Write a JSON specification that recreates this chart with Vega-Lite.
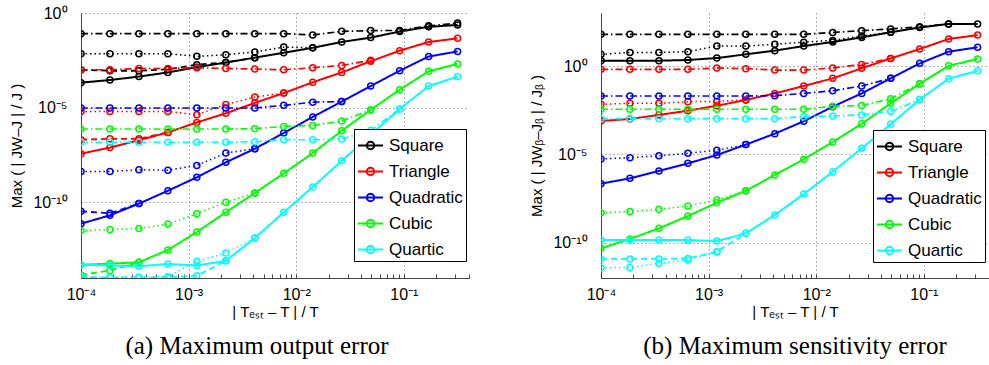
{
"$schema": "https://vega.github.io/schema/vega-lite/v6.json",
"background": "white",
"padding": {"left": 9, "top": 5, "right": 0, "bottom": 0},
"config": {
  "view": {"stroke": null},
  "font": "Liberation Sans",
  "axis": {"labelColor": "black", "titleColor": "black", "labelFont": "Liberation Sans", "titleFont": "Liberation Sans", "titleFontWeight": "normal", "labelFontSize": 16, "titleFontSize": 15},
  "legend": {"labelFont": "Liberation Sans"}
},
"datasets": {
"a": [
{"c":"Square","v":"A","x":0.0001,"y":2.09e-4},{"c":"Square","v":"A","x":0.0001857,"y":2.88e-4},{"c":"Square","v":"A","x":0.0003455,"y":4.37e-4},{"c":"Square","v":"A","x":0.000642,"y":7.24e-4},{"c":"Square","v":"A","x":0.001193,"y":1.38e-3},{"c":"Square","v":"A","x":0.002219,"y":2.40e-3},{"c":"Square","v":"A","x":0.004124,"y":4.37e-3},{"c":"Square","v":"A","x":0.007663,"y":7.94e-3},{"c":"Square","v":"A","x":0.01425,"y":1.45e-2},{"c":"Square","v":"A","x":0.02649,"y":2.95e-2},{"c":"Square","v":"A","x":0.04924,"y":5.01e-2},{"c":"Square","v":"A","x":0.09153,"y":0.105},{"c":"Square","v":"A","x":0.1701,"y":0.186},{"c":"Square","v":"A","x":0.3162,"y":0.234},
{"c":"Square","v":"B","x":0.0001,"y":1.0e-3},{"c":"Square","v":"B","x":0.0001857,"y":8.91e-4},{"c":"Square","v":"B","x":0.0003455,"y":8.91e-4},{"c":"Square","v":"B","x":0.000642,"y":1.05e-3},{"c":"Square","v":"B","x":0.001193,"y":1.86e-3},{"c":"Square","v":"B","x":0.002219,"y":2.45e-3},{"c":"Square","v":"B","x":0.004124,"y":4.37e-3},
{"c":"Square","v":"C","x":0.0001,"y":8.13e-2},{"c":"Square","v":"C","x":0.0001857,"y":8.13e-2},{"c":"Square","v":"C","x":0.0003455,"y":8.13e-2},{"c":"Square","v":"C","x":0.000642,"y":8.13e-2},{"c":"Square","v":"C","x":0.001193,"y":8.13e-2},{"c":"Square","v":"C","x":0.002219,"y":8.13e-2},{"c":"Square","v":"C","x":0.004124,"y":8.13e-2},{"c":"Square","v":"C","x":0.007663,"y":8.13e-2},{"c":"Square","v":"C","x":0.01425,"y":6.92e-2},{"c":"Square","v":"C","x":0.02649,"y":0.107},{"c":"Square","v":"C","x":0.04924,"y":0.1175},{"c":"Square","v":"C","x":0.09153,"y":0.120},{"c":"Square","v":"C","x":0.1701,"y":0.209},{"c":"Square","v":"C","x":0.3162,"y":0.295},
{"c":"Square","v":"D","x":0.0001,"y":7.08e-3},{"c":"Square","v":"D","x":0.0001857,"y":7.08e-3},{"c":"Square","v":"D","x":0.0003455,"y":7.08e-3},{"c":"Square","v":"D","x":0.000642,"y":7.08e-3},{"c":"Square","v":"D","x":0.001193,"y":5.13e-3},{"c":"Square","v":"D","x":0.002219,"y":6.31e-3},{"c":"Square","v":"D","x":0.004124,"y":8.71e-3},{"c":"Square","v":"D","x":0.007663,"y":1.58e-2},{"c":"Square","v":"D","x":0.01425,"y":1.45e-2},
{"c":"Triangle","v":"A","x":0.0001,"y":3.72e-8},{"c":"Triangle","v":"A","x":0.0001857,"y":7.76e-8},{"c":"Triangle","v":"A","x":0.0003455,"y":1.91e-7},{"c":"Triangle","v":"A","x":0.000642,"y":4.90e-7},{"c":"Triangle","v":"A","x":0.001193,"y":1.66e-6},{"c":"Triangle","v":"A","x":0.002219,"y":5.01e-6},{"c":"Triangle","v":"A","x":0.004124,"y":1.78e-5},{"c":"Triangle","v":"A","x":0.007663,"y":5.89e-5},{"c":"Triangle","v":"A","x":0.01425,"y":2.19e-4},{"c":"Triangle","v":"A","x":0.02649,"y":7.24e-4},{"c":"Triangle","v":"A","x":0.04924,"y":2.82e-3},{"c":"Triangle","v":"A","x":0.09153,"y":1.02e-2},{"c":"Triangle","v":"A","x":0.1701,"y":2.95e-2},{"c":"Triangle","v":"A","x":0.3162,"y":4.57e-2},
{"c":"Triangle","v":"B","x":0.0001,"y":2.04e-7},{"c":"Triangle","v":"B","x":0.0001857,"y":2.24e-7},{"c":"Triangle","v":"B","x":0.0003455,"y":2.24e-7},{"c":"Triangle","v":"B","x":0.000642,"y":4.90e-7},
{"c":"Triangle","v":"C","x":0.0001,"y":1.0e-3},{"c":"Triangle","v":"C","x":0.0001857,"y":1.0e-3},{"c":"Triangle","v":"C","x":0.0003455,"y":1.175e-3},{"c":"Triangle","v":"C","x":0.000642,"y":1.175e-3},{"c":"Triangle","v":"C","x":0.001193,"y":1.288e-3},{"c":"Triangle","v":"C","x":0.002219,"y":1.175e-3},{"c":"Triangle","v":"C","x":0.004124,"y":1.096e-3},{"c":"Triangle","v":"C","x":0.007663,"y":1.0e-3},{"c":"Triangle","v":"C","x":0.01425,"y":1.288e-3},{"c":"Triangle","v":"C","x":0.02649,"y":1.698e-3},{"c":"Triangle","v":"C","x":0.04924,"y":3.16e-3},
{"c":"Triangle","v":"D","x":0.0001,"y":6.31e-6},{"c":"Triangle","v":"D","x":0.0001857,"y":6.31e-6},{"c":"Triangle","v":"D","x":0.0003455,"y":6.31e-6},{"c":"Triangle","v":"D","x":0.000642,"y":6.31e-6},{"c":"Triangle","v":"D","x":0.001193,"y":4.27e-6},{"c":"Triangle","v":"D","x":0.002219,"y":1.45e-5},{"c":"Triangle","v":"D","x":0.004124,"y":3.63e-5},{"c":"Triangle","v":"D","x":0.007663,"y":5.89e-5},
{"c":"Quadratic","v":"A","x":0.0001,"y":7.41e-12},{"c":"Quadratic","v":"A","x":0.0001857,"y":2.04e-11},{"c":"Quadratic","v":"A","x":0.0003455,"y":8.51e-11},{"c":"Quadratic","v":"A","x":0.000642,"y":4.07e-10},{"c":"Quadratic","v":"A","x":0.001193,"y":2.09e-9},{"c":"Quadratic","v":"A","x":0.002219,"y":1.29e-8},{"c":"Quadratic","v":"A","x":0.004124,"y":6.76e-8},{"c":"Quadratic","v":"A","x":0.007663,"y":4.57e-7},{"c":"Quadratic","v":"A","x":0.01425,"y":3.24e-6},{"c":"Quadratic","v":"A","x":0.02649,"y":2.09e-5},{"c":"Quadratic","v":"A","x":0.04924,"y":1.38e-4},{"c":"Quadratic","v":"A","x":0.09153,"y":8.91e-4},{"c":"Quadratic","v":"A","x":0.1701,"y":5.01e-3},{"c":"Quadratic","v":"A","x":0.3162,"y":9.33e-3},
{"c":"Quadratic","v":"B","x":0.0001,"y":3.31e-11},{"c":"Quadratic","v":"B","x":0.0001857,"y":2.63e-11},{"c":"Quadratic","v":"B","x":0.0003455,"y":8.51e-11},
{"c":"Quadratic","v":"C","x":0.0001,"y":9.55e-6},{"c":"Quadratic","v":"C","x":0.0001857,"y":9.55e-6},{"c":"Quadratic","v":"C","x":0.0003455,"y":9.55e-6},{"c":"Quadratic","v":"C","x":0.000642,"y":9.55e-6},{"c":"Quadratic","v":"C","x":0.001193,"y":9.55e-6},{"c":"Quadratic","v":"C","x":0.002219,"y":9.55e-6},{"c":"Quadratic","v":"C","x":0.004124,"y":9.55e-6},{"c":"Quadratic","v":"C","x":0.007663,"y":1.32e-5},{"c":"Quadratic","v":"C","x":0.01425,"y":1.95e-5},{"c":"Quadratic","v":"C","x":0.02649,"y":2.09e-5},
{"c":"Quadratic","v":"D","x":0.0001,"y":4.27e-9},{"c":"Quadratic","v":"D","x":0.0001857,"y":4.27e-9},{"c":"Quadratic","v":"D","x":0.0003455,"y":5.25e-9},{"c":"Quadratic","v":"D","x":0.000642,"y":4.90e-9},{"c":"Quadratic","v":"D","x":0.001193,"y":8.91e-9},{"c":"Quadratic","v":"D","x":0.002219,"y":3.98e-8},{"c":"Quadratic","v":"D","x":0.004124,"y":6.76e-8},
{"c":"Cubic","v":"A","x":0.0001,"y":5.01e-14},{"c":"Cubic","v":"A","x":0.0001857,"y":5.75e-14},{"c":"Cubic","v":"A","x":0.0003455,"y":6.76e-14},{"c":"Cubic","v":"A","x":0.000642,"y":3.02e-13},{"c":"Cubic","v":"A","x":0.001193,"y":2.69e-12},{"c":"Cubic","v":"A","x":0.002219,"y":2.95e-11},{"c":"Cubic","v":"A","x":0.004124,"y":3.09e-10},{"c":"Cubic","v":"A","x":0.007663,"y":3.39e-9},{"c":"Cubic","v":"A","x":0.01425,"y":3.98e-8},{"c":"Cubic","v":"A","x":0.02649,"y":6.03e-7},{"c":"Cubic","v":"A","x":0.04924,"y":7.59e-6},{"c":"Cubic","v":"A","x":0.09153,"y":8.91e-5},{"c":"Cubic","v":"A","x":0.1701,"y":8.32e-4},{"c":"Cubic","v":"A","x":0.3162,"y":2.04e-3},
{"c":"Cubic","v":"B","x":0.0001,"y":1.45e-14},{"c":"Cubic","v":"B","x":0.0001857,"y":2.51e-14},{"c":"Cubic","v":"B","x":0.0003455,"y":6.76e-14},
{"c":"Cubic","v":"C","x":0.0001,"y":7.41e-7},{"c":"Cubic","v":"C","x":0.0001857,"y":7.41e-7},{"c":"Cubic","v":"C","x":0.0003455,"y":7.41e-7},{"c":"Cubic","v":"C","x":0.000642,"y":7.41e-7},{"c":"Cubic","v":"C","x":0.001193,"y":7.41e-7},{"c":"Cubic","v":"C","x":0.002219,"y":7.41e-7},{"c":"Cubic","v":"C","x":0.004124,"y":7.76e-7},{"c":"Cubic","v":"C","x":0.007663,"y":1.02e-6},{"c":"Cubic","v":"C","x":0.01425,"y":1.15e-6},{"c":"Cubic","v":"C","x":0.02649,"y":1.95e-6},{"c":"Cubic","v":"C","x":0.04924,"y":7.59e-6},
{"c":"Cubic","v":"D","x":0.0001,"y":3.16e-12},{"c":"Cubic","v":"D","x":0.0001857,"y":3.63e-12},{"c":"Cubic","v":"D","x":0.0003455,"y":4.07e-12},{"c":"Cubic","v":"D","x":0.000642,"y":7.08e-12},{"c":"Cubic","v":"D","x":0.001193,"y":2.51e-11},{"c":"Cubic","v":"D","x":0.002219,"y":1.0e-10},{"c":"Cubic","v":"D","x":0.004124,"y":3.09e-10},
{"c":"Quartic","v":"A","x":0.0001,"y":5.01e-14},{"c":"Quartic","v":"A","x":0.0001857,"y":4.57e-14},{"c":"Quartic","v":"A","x":0.0003455,"y":4.17e-14},{"c":"Quartic","v":"A","x":0.000642,"y":5.50e-14},{"c":"Quartic","v":"A","x":0.001193,"y":4.57e-14},{"c":"Quartic","v":"A","x":0.002219,"y":8.13e-14},{"c":"Quartic","v":"A","x":0.004124,"y":1.29e-12},{"c":"Quartic","v":"A","x":0.007663,"y":2.95e-11},{"c":"Quartic","v":"A","x":0.01425,"y":6.46e-10},{"c":"Quartic","v":"A","x":0.02649,"y":1.55e-8},{"c":"Quartic","v":"A","x":0.04924,"y":3.63e-7},{"c":"Quartic","v":"A","x":0.09153,"y":8.51e-6},{"c":"Quartic","v":"A","x":0.1701,"y":1.38e-4},{"c":"Quartic","v":"A","x":0.3162,"y":4.37e-4},
{"c":"Quartic","v":"B","x":0.0001,"y":1.12e-14},{"c":"Quartic","v":"B","x":0.0001857,"y":1.07e-14},{"c":"Quartic","v":"B","x":0.0003455,"y":1.07e-14},{"c":"Quartic","v":"B","x":0.000642,"y":1.07e-14},{"c":"Quartic","v":"B","x":0.001193,"y":1.32e-14},{"c":"Quartic","v":"B","x":0.002219,"y":8.13e-14},
{"c":"Quartic","v":"C","x":0.0001,"y":1.48e-7},{"c":"Quartic","v":"C","x":0.0001857,"y":1.48e-7},{"c":"Quartic","v":"C","x":0.0003455,"y":1.48e-7},{"c":"Quartic","v":"C","x":0.000642,"y":1.48e-7},{"c":"Quartic","v":"C","x":0.001193,"y":1.48e-7},{"c":"Quartic","v":"C","x":0.002219,"y":1.48e-7},{"c":"Quartic","v":"C","x":0.004124,"y":1.58e-7},{"c":"Quartic","v":"C","x":0.007663,"y":2.04e-7},{"c":"Quartic","v":"C","x":0.01425,"y":2.0e-7},{"c":"Quartic","v":"C","x":0.02649,"y":2.19e-7},{"c":"Quartic","v":"C","x":0.04924,"y":6.31e-7},{"c":"Quartic","v":"C","x":0.09153,"y":8.51e-6},
{"c":"Quartic","v":"D","x":0.0001,"y":1.12e-14},{"c":"Quartic","v":"D","x":0.0001857,"y":1.07e-14},{"c":"Quartic","v":"D","x":0.0003455,"y":1.12e-14},{"c":"Quartic","v":"D","x":0.000642,"y":1.18e-14},{"c":"Quartic","v":"D","x":0.001193,"y":7.59e-14},{"c":"Quartic","v":"D","x":0.002219,"y":2.09e-13},{"c":"Quartic","v":"D","x":0.004124,"y":1.29e-12}
],
"b": [
{"c":"Square","v":"A","x":0.0001,"y":2.0},{"c":"Square","v":"A","x":0.0001857,"y":2.0},{"c":"Square","v":"A","x":0.0003455,"y":2.0},{"c":"Square","v":"A","x":0.000642,"y":2.19},{"c":"Square","v":"A","x":0.001193,"y":2.82},{"c":"Square","v":"A","x":0.002219,"y":4.57},{"c":"Square","v":"A","x":0.004124,"y":7.41},{"c":"Square","v":"A","x":0.007663,"y":13.5},{"c":"Square","v":"A","x":0.01425,"y":22.9},{"c":"Square","v":"A","x":0.02649,"y":41.7},{"c":"Square","v":"A","x":0.04924,"y":81.3},{"c":"Square","v":"A","x":0.09153,"y":151},{"c":"Square","v":"A","x":0.1701,"y":240},{"c":"Square","v":"A","x":0.3162,"y":240},
{"c":"Square","v":"C","x":0.0001,"y":61.7},{"c":"Square","v":"C","x":0.0001857,"y":61.7},{"c":"Square","v":"C","x":0.0003455,"y":61.7},{"c":"Square","v":"C","x":0.000642,"y":61.7},{"c":"Square","v":"C","x":0.001193,"y":61.7},{"c":"Square","v":"C","x":0.002219,"y":61.7},{"c":"Square","v":"C","x":0.004124,"y":61.7},{"c":"Square","v":"C","x":0.007663,"y":61.7},{"c":"Square","v":"C","x":0.01425,"y":79.4},{"c":"Square","v":"C","x":0.02649,"y":100},{"c":"Square","v":"C","x":0.04924,"y":126},{"c":"Square","v":"C","x":0.09153,"y":166},{"c":"Square","v":"C","x":0.1701,"y":240},
{"c":"Square","v":"D","x":0.0001,"y":4.57},{"c":"Square","v":"D","x":0.0001857,"y":5.89},{"c":"Square","v":"D","x":0.0003455,"y":5.89},{"c":"Square","v":"D","x":0.000642,"y":6.46},{"c":"Square","v":"D","x":0.001193,"y":13.5},{"c":"Square","v":"D","x":0.002219,"y":13.5},{"c":"Square","v":"D","x":0.004124,"y":17.0},{"c":"Square","v":"D","x":0.007663,"y":22.4},{"c":"Square","v":"D","x":0.01425,"y":28.2},{"c":"Square","v":"D","x":0.02649,"y":50.1},{"c":"Square","v":"D","x":0.04924,"y":81.3},
{"c":"Triangle","v":"A","x":0.0001,"y":7.76e-4},{"c":"Triangle","v":"A","x":0.0001857,"y":1.0e-3},{"c":"Triangle","v":"A","x":0.0003455,"y":1.70e-3},{"c":"Triangle","v":"A","x":0.000642,"y":2.95e-3},{"c":"Triangle","v":"A","x":0.001193,"y":5.62e-3},{"c":"Triangle","v":"A","x":0.002219,"y":1.20e-2},{"c":"Triangle","v":"A","x":0.004124,"y":2.82e-2},{"c":"Triangle","v":"A","x":0.007663,"y":7.41e-2},{"c":"Triangle","v":"A","x":0.01425,"y":0.2},{"c":"Triangle","v":"A","x":0.02649,"y":0.741},{"c":"Triangle","v":"A","x":0.04924,"y":2.69},{"c":"Triangle","v":"A","x":0.09153,"y":9.12},{"c":"Triangle","v":"A","x":0.1701,"y":33.9},{"c":"Triangle","v":"A","x":0.3162,"y":56.2},
{"c":"Triangle","v":"C","x":0.0001,"y":0.646},{"c":"Triangle","v":"C","x":0.0001857,"y":0.646},{"c":"Triangle","v":"C","x":0.0003455,"y":0.646},{"c":"Triangle","v":"C","x":0.000642,"y":0.646},{"c":"Triangle","v":"C","x":0.001193,"y":0.776},{"c":"Triangle","v":"C","x":0.002219,"y":0.708},{"c":"Triangle","v":"C","x":0.004124,"y":0.589},{"c":"Triangle","v":"C","x":0.007663,"y":0.589},{"c":"Triangle","v":"C","x":0.01425,"y":0.776},{"c":"Triangle","v":"C","x":0.02649,"y":1.23},{"c":"Triangle","v":"C","x":0.04924,"y":2.69},
{"c":"Triangle","v":"D","x":0.0001,"y":6.76e-3},{"c":"Triangle","v":"D","x":0.0001857,"y":7.76e-3},{"c":"Triangle","v":"D","x":0.0003455,"y":7.76e-3},{"c":"Triangle","v":"D","x":0.000642,"y":9.55e-3},{"c":"Triangle","v":"D","x":0.001193,"y":1.0e-2},{"c":"Triangle","v":"D","x":0.002219,"y":1.20e-2},
{"c":"Quadratic","v":"A","x":0.0001,"y":2.19e-7},{"c":"Quadratic","v":"A","x":0.0001857,"y":4.37e-7},{"c":"Quadratic","v":"A","x":0.0003455,"y":1.15e-6},{"c":"Quadratic","v":"A","x":0.000642,"y":3.09e-6},{"c":"Quadratic","v":"A","x":0.001193,"y":9.12e-6},{"c":"Quadratic","v":"A","x":0.002219,"y":3.55e-5},{"c":"Quadratic","v":"A","x":0.004124,"y":1.48e-4},{"c":"Quadratic","v":"A","x":0.007663,"y":7.41e-4},{"c":"Quadratic","v":"A","x":0.01425,"y":5.01e-3},{"c":"Quadratic","v":"A","x":0.02649,"y":2.82e-2},{"c":"Quadratic","v":"A","x":0.04924,"y":0.2},{"c":"Quadratic","v":"A","x":0.09153,"y":1.41},{"c":"Quadratic","v":"A","x":0.1701,"y":6.46},{"c":"Quadratic","v":"A","x":0.3162,"y":11.5},
{"c":"Quadratic","v":"C","x":0.0001,"y":2.0e-2},{"c":"Quadratic","v":"C","x":0.0001857,"y":2.0e-2},{"c":"Quadratic","v":"C","x":0.0003455,"y":2.0e-2},{"c":"Quadratic","v":"C","x":0.000642,"y":2.0e-2},{"c":"Quadratic","v":"C","x":0.001193,"y":2.0e-2},{"c":"Quadratic","v":"C","x":0.002219,"y":2.0e-2},{"c":"Quadratic","v":"C","x":0.004124,"y":2.09e-2},{"c":"Quadratic","v":"C","x":0.007663,"y":2.82e-2},{"c":"Quadratic","v":"C","x":0.01425,"y":3.98e-2},{"c":"Quadratic","v":"C","x":0.02649,"y":7.41e-2},{"c":"Quadratic","v":"C","x":0.04924,"y":0.2},
{"c":"Quadratic","v":"D","x":0.0001,"y":5.50e-6},{"c":"Quadratic","v":"D","x":0.0001857,"y":6.46e-6},{"c":"Quadratic","v":"D","x":0.0003455,"y":8.32e-6},{"c":"Quadratic","v":"D","x":0.000642,"y":1.15e-5},{"c":"Quadratic","v":"D","x":0.001193,"y":1.70e-5},{"c":"Quadratic","v":"D","x":0.002219,"y":3.55e-5},
{"c":"Cubic","v":"A","x":0.0001,"y":4.79e-11},{"c":"Cubic","v":"A","x":0.0001857,"y":1.62e-10},{"c":"Cubic","v":"A","x":0.0003455,"y":6.46e-10},{"c":"Cubic","v":"A","x":0.000642,"y":3.24e-9},{"c":"Cubic","v":"A","x":0.001193,"y":1.82e-8},{"c":"Cubic","v":"A","x":0.002219,"y":8.71e-8},{"c":"Cubic","v":"A","x":0.004124,"y":6.76e-7},{"c":"Cubic","v":"A","x":0.007663,"y":5.25e-6},{"c":"Cubic","v":"A","x":0.01425,"y":5.01e-5},{"c":"Cubic","v":"A","x":0.02649,"y":5.37e-4},{"c":"Cubic","v":"A","x":0.04924,"y":7.76e-3},{"c":"Cubic","v":"A","x":0.09153,"y":0.1},{"c":"Cubic","v":"A","x":0.1701,"y":1.02},{"c":"Cubic","v":"A","x":0.3162,"y":2.51},
{"c":"Cubic","v":"C","x":0.0001,"y":3.55e-3},{"c":"Cubic","v":"C","x":0.0001857,"y":3.55e-3},{"c":"Cubic","v":"C","x":0.0003455,"y":3.55e-3},{"c":"Cubic","v":"C","x":0.000642,"y":3.55e-3},{"c":"Cubic","v":"C","x":0.001193,"y":3.55e-3},{"c":"Cubic","v":"C","x":0.002219,"y":3.55e-3},{"c":"Cubic","v":"C","x":0.004124,"y":3.55e-3},{"c":"Cubic","v":"C","x":0.007663,"y":3.55e-3},{"c":"Cubic","v":"C","x":0.01425,"y":5.25e-3},{"c":"Cubic","v":"C","x":0.02649,"y":5.75e-3},{"c":"Cubic","v":"C","x":0.04924,"y":1.41e-2},{"c":"Cubic","v":"C","x":0.09153,"y":0.1},
{"c":"Cubic","v":"D","x":0.0001,"y":5.01e-9},{"c":"Cubic","v":"D","x":0.0001857,"y":5.89e-9},{"c":"Cubic","v":"D","x":0.0003455,"y":7.76e-9},{"c":"Cubic","v":"D","x":0.000642,"y":1.20e-8},{"c":"Cubic","v":"D","x":0.001193,"y":2.63e-8},{"c":"Cubic","v":"D","x":0.002219,"y":8.71e-8},
{"c":"Quartic","v":"A","x":0.0001,"y":1.41e-10},{"c":"Quartic","v":"A","x":0.0001857,"y":1.41e-10},{"c":"Quartic","v":"A","x":0.0003455,"y":1.41e-10},{"c":"Quartic","v":"A","x":0.000642,"y":1.41e-10},{"c":"Quartic","v":"A","x":0.001193,"y":1.23e-10},{"c":"Quartic","v":"A","x":0.002219,"y":3.39e-10},{"c":"Quartic","v":"A","x":0.004124,"y":3.72e-9},{"c":"Quartic","v":"A","x":0.007663,"y":5.62e-8},{"c":"Quartic","v":"A","x":0.01425,"y":1.05e-6},{"c":"Quartic","v":"A","x":0.02649,"y":2.19e-5},{"c":"Quartic","v":"A","x":0.04924,"y":5.13e-4},{"c":"Quartic","v":"A","x":0.09153,"y":1.26e-2},{"c":"Quartic","v":"A","x":0.1701,"y":0.191},{"c":"Quartic","v":"A","x":0.3162,"y":0.537},
{"c":"Quartic","v":"B","x":0.0001,"y":1.20e-11},{"c":"Quartic","v":"B","x":0.0001857,"y":1.20e-11},{"c":"Quartic","v":"B","x":0.0003455,"y":1.20e-11},{"c":"Quartic","v":"B","x":0.000642,"y":1.29e-11},{"c":"Quartic","v":"B","x":0.001193,"y":3.09e-11},{"c":"Quartic","v":"B","x":0.002219,"y":3.39e-10},
{"c":"Quartic","v":"C","x":0.0001,"y":1.05e-3},{"c":"Quartic","v":"C","x":0.0001857,"y":1.05e-3},{"c":"Quartic","v":"C","x":0.0003455,"y":1.05e-3},{"c":"Quartic","v":"C","x":0.000642,"y":1.05e-3},{"c":"Quartic","v":"C","x":0.001193,"y":1.05e-3},{"c":"Quartic","v":"C","x":0.002219,"y":1.05e-3},{"c":"Quartic","v":"C","x":0.004124,"y":1.05e-3},{"c":"Quartic","v":"C","x":0.007663,"y":1.35e-3},{"c":"Quartic","v":"C","x":0.01425,"y":1.48e-3},{"c":"Quartic","v":"C","x":0.02649,"y":1.70e-3},{"c":"Quartic","v":"C","x":0.04924,"y":2.69e-3},{"c":"Quartic","v":"C","x":0.09153,"y":1.26e-2},
{"c":"Quartic","v":"D","x":0.0001,"y":3.80e-12},{"c":"Quartic","v":"D","x":0.0001857,"y":3.98e-12},{"c":"Quartic","v":"D","x":0.0003455,"y":6.76e-12},{"c":"Quartic","v":"D","x":0.000642,"y":1.05e-11},{"c":"Quartic","v":"D","x":0.001193,"y":3.09e-11}
]
},
"spacing": 132,
"bounds": "flush",
"resolve": {"scale": {"color": "independent"}, "legend": {"color": "independent"}},
"hconcat": [
{
 "width": 388, "height": 265,
 "data": {"name": "a"},
 "title": {"text": "(a) Maximum output error", "orient": "bottom", "anchor": "middle", "font": "Liberation Serif", "fontSize": 25, "fontWeight": "normal", "color": "black", "offset": 15, "dx": -18},
 "resolve": {"axis": {"x": "independent"}},
 "layer": [
  {
   "mark": {"type": "line", "clip": true},
   "encoding": {
    "x": {"field": "x", "type": "quantitative", "scale": {"type": "log", "domain": [0.0001, 0.4036]},
          "axis": {"values": [0.0001, 0.001, 0.01, 0.1], "labelExpr": "datum.value < 0.0005 ? '10⁻⁴' : datum.value < 0.005 ? '10⁻³' : datum.value < 0.05 ? '10⁻²' : '10⁻¹'", "ticks": false, "grid": true, "gridDash": [1, 3], "gridColor": "#666666", "gridOpacity": 1, "domainColor": "#444444", "labelPadding": 8, "labelFlush": false, "labelOverlap": false, "title": "| Tₑₛₜ – T | / T", "titlePadding": 2}},
    "y": {"field": "y", "type": "quantitative", "scale": {"type": "log", "domain": [1e-14, 1]},
          "axis": {"values": [1, 1e-5, 1e-10], "labelExpr": "datum.value > 0.5 ? '10⁰' : datum.value > 1e-7 ? '10⁻⁵' : '10⁻¹⁰'", "ticks": false, "grid": true, "gridDash": [1, 3], "gridColor": "#666666", "gridOpacity": 1, "domainColor": "#444444", "labelPadding": 14, "labelFlush": false, "labelOverlap": false, "title": "Max ( | JW–J | / J )", "titlePadding": 8}},
    "color": {"field": "c", "type": "nominal", "scale": {"domain": ["Square", "Triangle", "Quadratic", "Cubic", "Quartic"], "range": ["#000000", "#ff0000", "#0000ff", "#00ff00", "#00ffff"]},
          "legend": {"orient": "none", "legendX": 273, "legendY": 116, "title": null, "symbolType": "M-1,0L1,0M0.3,0A0.3,0.3,0,1,1,-0.3,0A0.3,0.3,0,1,1,0.3,0", "symbolSize": 625, "symbolStrokeWidth": 2, "symbolFillColor": "transparent", "labelFontSize": 17, "labelColor": "black", "labelOffset": 5, "strokeColor": "black", "fillColor": "white", "padding": 3, "rowPadding": 4}},
    "strokeDash": {"field": "v", "type": "nominal", "scale": {"domain": ["A", "B", "C", "D"], "range": [[1, 0], [6, 4], [7, 3, 1.5, 3], [1.5, 3]]}, "legend": null},
    "strokeWidth": {"field": "v", "type": "ordinal", "scale": {"domain": ["A", "B", "C", "D"], "range": [2, 1.5, 1.5, 1.5]}, "legend": null}
   }
  },
  {
   "mark": {"type": "point", "clip": true, "filled": false, "shape": "circle", "size": 36, "strokeWidth": 1.5, "opacity": 1},
   "encoding": {
    "x": {"field": "x", "type": "quantitative", "scale": {"type": "log", "domain": [0.0001, 0.4036]},
          "axis": {"orient": "bottom", "values": [0.0001,0.0002,0.0003,0.0004,0.0005,0.0006,0.0007,0.0008,0.0009,0.001,0.002,0.003,0.004,0.005,0.006,0.007,0.008,0.009,0.01,0.02,0.03,0.04,0.05,0.06,0.07,0.08,0.09,0.1,0.2,0.3,0.4], "labels": false, "grid": false, "domain": false, "ticks": true, "tickSize": -4, "tickColor": "#444444", "title": null}},
    "y": {"field": "y", "type": "quantitative", "scale": {"type": "log", "domain": [1e-14, 1]},
          "axis": {"values": [1, 1e-5, 1e-10], "labelExpr": "datum.value > 0.5 ? '10⁰' : datum.value > 1e-7 ? '10⁻⁵' : '10⁻¹⁰'", "ticks": false, "grid": true, "gridDash": [1, 3], "gridColor": "#666666", "gridOpacity": 1, "domainColor": "#444444", "labelPadding": 14, "labelFlush": false, "labelOverlap": false, "title": "Max ( | JW–J | / J )", "titlePadding": 8}},
    "color": {"field": "c", "type": "nominal", "scale": {"domain": ["Square", "Triangle", "Quadratic", "Cubic", "Quartic"], "range": ["#000000", "#ff0000", "#0000ff", "#00ff00", "#00ffff"]}, "legend": null},
    "detail": {"field": "v"}
   }
  }
 ]
},
{
 "width": 388, "height": 265,
 "data": {"name": "b"},
 "title": {"text": "(b) Maximum sensitivity error", "orient": "bottom", "anchor": "middle", "font": "Liberation Serif", "fontSize": 25, "fontWeight": "normal", "color": "black", "offset": 15},
 "resolve": {"axis": {"x": "independent"}},
 "layer": [
  {
   "mark": {"type": "line", "clip": true},
   "encoding": {
    "x": {"field": "x", "type": "quantitative", "scale": {"type": "log", "domain": [0.0001, 0.4036]},
          "axis": {"values": [0.0001, 0.001, 0.01, 0.1], "labelExpr": "datum.value < 0.0005 ? '10⁻⁴' : datum.value < 0.005 ? '10⁻³' : datum.value < 0.05 ? '10⁻²' : '10⁻¹'", "ticks": false, "grid": true, "gridDash": [1, 3], "gridColor": "#666666", "gridOpacity": 1, "domainColor": "#444444", "labelPadding": 8, "labelFlush": false, "labelOverlap": false, "title": "| Tₑₛₜ – T | / T", "titlePadding": 2}},
    "y": {"field": "y", "type": "quantitative", "scale": {"type": "log", "domain": [1e-12, 1000]},
          "axis": {"values": [1, 1e-5, 1e-10], "labelExpr": "datum.value > 0.5 ? '10⁰' : datum.value > 1e-7 ? '10⁻⁵' : '10⁻¹⁰'", "ticks": false, "grid": true, "gridDash": [1, 3], "gridColor": "#666666", "gridOpacity": 1, "domainColor": "#444444", "labelPadding": 14, "labelFlush": false, "labelOverlap": false, "title": "Max ( | JWᵦ–Jᵦ | / Jᵦ )", "titlePadding": 8}},
    "color": {"field": "c", "type": "nominal", "scale": {"domain": ["Square", "Triangle", "Quadratic", "Cubic", "Quartic"], "range": ["#000000", "#ff0000", "#0000ff", "#00ff00", "#00ffff"]},
          "legend": {"orient": "none", "legendX": 272, "legendY": 117, "title": null, "symbolType": "M-1,0L1,0M0.3,0A0.3,0.3,0,1,1,-0.3,0A0.3,0.3,0,1,1,0.3,0", "symbolSize": 625, "symbolStrokeWidth": 2, "symbolFillColor": "transparent", "labelFontSize": 17, "labelColor": "black", "labelOffset": 5, "strokeColor": "black", "fillColor": "white", "padding": 3, "rowPadding": 4}},
    "strokeDash": {"field": "v", "type": "nominal", "scale": {"domain": ["A", "B", "C", "D"], "range": [[1, 0], [6, 4], [7, 3, 1.5, 3], [1.5, 3]]}, "legend": null},
    "strokeWidth": {"field": "v", "type": "ordinal", "scale": {"domain": ["A", "B", "C", "D"], "range": [2, 1.5, 1.5, 1.5]}, "legend": null}
   }
  },
  {
   "mark": {"type": "point", "clip": true, "filled": false, "shape": "circle", "size": 36, "strokeWidth": 1.5, "opacity": 1},
   "encoding": {
    "x": {"field": "x", "type": "quantitative", "scale": {"type": "log", "domain": [0.0001, 0.4036]},
          "axis": {"orient": "bottom", "values": [0.0001,0.0002,0.0003,0.0004,0.0005,0.0006,0.0007,0.0008,0.0009,0.001,0.002,0.003,0.004,0.005,0.006,0.007,0.008,0.009,0.01,0.02,0.03,0.04,0.05,0.06,0.07,0.08,0.09,0.1,0.2,0.3,0.4], "labels": false, "grid": false, "domain": false, "ticks": true, "tickSize": -4, "tickColor": "#444444", "title": null}},
    "y": {"field": "y", "type": "quantitative", "scale": {"type": "log", "domain": [1e-12, 1000]},
          "axis": {"values": [1, 1e-5, 1e-10], "labelExpr": "datum.value > 0.5 ? '10⁰' : datum.value > 1e-7 ? '10⁻⁵' : '10⁻¹⁰'", "ticks": false, "grid": true, "gridDash": [1, 3], "gridColor": "#666666", "gridOpacity": 1, "domainColor": "#444444", "labelPadding": 14, "labelFlush": false, "labelOverlap": false, "title": "Max ( | JWᵦ–Jᵦ | / Jᵦ )", "titlePadding": 8}},
    "color": {"field": "c", "type": "nominal", "scale": {"domain": ["Square", "Triangle", "Quadratic", "Cubic", "Quartic"], "range": ["#000000", "#ff0000", "#0000ff", "#00ff00", "#00ffff"]}, "legend": null},
    "detail": {"field": "v"}
   }
  }
 ]
}
]
}
